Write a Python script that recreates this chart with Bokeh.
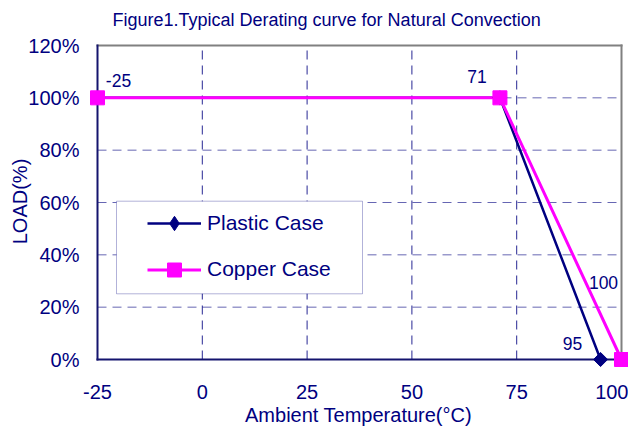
import math
from bokeh.plotting import figure
from bokeh.models import Range1d, FixedTicker, Legend, LegendItem, BoxAnnotation
from bokeh.core.properties import value
from bokeh.embed import file_html
from bokeh.resources import INLINE

# ---------------- data ----------------
chart_title = "Figure1.Typical Derating curve for Natural Convection"
x_label = "Ambient Temperature(\u00b0C)"
y_label = "LOAD(%)"
x_ticks = [-25, 0, 25, 50, 75, 100]
x_tick_labels = ["-25", "0", "25", "50", "75", "100"]
y_ticks = [0, 20, 40, 60, 80, 100, 120]
y_tick_labels = ["0%", "20%", "40%", "60%", "80%", "100%", "120%"]

plastic_temp = [-25, 71, 95]
plastic_load = [100, 100, 0]
copper_temp = [-25, 71, 100]
copper_load = [100, 100, 0]

note_text = ["-25", "71", "100", "95"]
note_temp = [-25, 71, 100, 95]
note_load = [100, 100, 0, 0]

X_MIN, X_MAX = -25, 100
Y_MIN, Y_MAX = 0, 120

# ---------------- style / layout ----------------
FONT = "Liberation Sans"
NAVY = "#000080"
MAGENTA = "#FF00FF"
GREY = "#808080"

PX = 524 / 125.0   # px per degree
PY = 314 / 120.0   # px per percent
ML, MR, MB, MT = 9, 7, 8, 10   # extra frame margin (px) so markers are not clipped

note_dx = [21, -23, -18, -28]
note_dy = [-17, -21, -77, -16]

p = figure(
    frame_width=524 + ML + MR, frame_height=314 + MB + MT,
    min_border_left=88, min_border_right=0, min_border_top=35, min_border_bottom=60,
    x_range=Range1d(X_MIN - ML / PX, X_MAX + MR / PX),
    y_range=Range1d(Y_MIN - MB / PY, Y_MAX + MT / PY),
    output_backend="svg", toolbar_location=None, title=chart_title,
)
p.outline_line_color = None
p.background_fill_color = "white"
p.border_fill_color = "white"
p.xgrid.visible = False
p.ygrid.visible = False

# title
p.title.text_font = FONT
p.title.text_font_size = "18px"
p.title.text_font_style = "normal"
p.title.text_color = NAVY
p.title.align = "left"
p.title.offset = 24
p.title.standoff = 11

# axes
for ax in (p.xaxis[0], p.yaxis[0]):
    ax.axis_line_color = None
    ax.major_tick_line_color = None
    ax.minor_tick_line_color = None
    ax.major_tick_in = 0
    ax.major_tick_out = 0
    ax.minor_tick_in = 0
    ax.minor_tick_out = 0
    ax.major_label_text_font = FONT
    ax.major_label_text_font_size = "20px"
    ax.major_label_text_color = NAVY
    ax.axis_label_text_font = FONT
    ax.axis_label_text_font_size = "20px"
    ax.axis_label_text_font_style = "normal"
    ax.axis_label_text_color = NAVY

p.xaxis.ticker = FixedTicker(ticks=x_ticks)
p.xaxis.major_label_overrides = {t: s for t, s in zip(x_ticks, x_tick_labels)}
p.xaxis.axis_label = x_label
p.xaxis.major_label_standoff = 17
p.xaxis.axis_label_standoff = 2

p.yaxis.ticker = FixedTicker(ticks=y_ticks)
p.yaxis.major_label_overrides = {t: s for t, s in zip(y_ticks, y_tick_labels)}
p.yaxis.axis_label = y_label
p.yaxis.major_label_standoff = 9
p.yaxis.axis_label_standoff = -6

# grid lines (inside the data limits only)
gx = [t for t in x_ticks if X_MIN < t < X_MAX]
gy = [t for t in y_ticks if Y_MIN < t < Y_MAX]
p.segment(x0=gx, y0=[Y_MIN] * len(gx), x1=gx, y1=[Y_MAX] * len(gx),
          line_color=NAVY, line_alpha=0.85, line_width=1, line_dash="9 6")
p.segment(x0=[X_MIN] * len(gy), y0=gy, x1=[X_MAX] * len(gy), y1=gy,
          line_color=NAVY, line_alpha=0.6, line_width=1, line_dash="9 6")

# frame
p.segment(x0=[X_MIN, X_MAX], y0=[Y_MAX, Y_MIN], x1=[X_MAX, X_MAX], y1=[Y_MAX, Y_MAX],
          line_color=GREY, line_width=2, line_cap="square")
p.segment(x0=[X_MIN, X_MIN], y0=[Y_MIN, Y_MIN], x1=[X_MIN, X_MAX], y1=[Y_MAX, Y_MIN],
          line_color="#14146e", line_width=2, line_cap="square")

# series
pl = p.line(plastic_temp, plastic_load, line_color=NAVY, line_width=2.5)
cl = p.line(copper_temp, copper_load, line_color=MAGENTA, line_width=3)
# diamond used as the legend sample (hidden under the data markers in the plot)
ps_key = p.scatter(plastic_temp, plastic_load, marker="diamond", size=9,
                   fill_color=NAVY, line_color=NAVY)
ps = p.scatter(plastic_temp, plastic_load, marker="square", angle=math.pi / 4,
               size=10, fill_color=NAVY, line_color=NAVY)
cs = p.scatter(copper_temp, copper_load, marker="square", size=14,
               fill_color=MAGENTA, line_color=MAGENTA)

# point notes
p.text(x=note_temp, y=note_load, text=note_text, x_offset=note_dx, y_offset=note_dy,
       text_font=value(FONT), text_font_size="17.5px", text_color=NAVY,
       text_align="center", text_baseline="middle")

# legend box
box = BoxAnnotation(left=X_MIN + 19 / PX, right=X_MIN + 265 / PX,
                    bottom=Y_MIN + 65.7 / PY, top=Y_MIN + 158.3 / PY,
                    fill_color="white", fill_alpha=1.0,
                    line_color=NAVY, line_width=1)
p.add_layout(box)

common = dict(padding=0, margin=0, glyph_width=54, label_standoff=6,
              border_line_color=None, background_fill_alpha=0,
              label_text_font=FONT, label_text_font_size="21px", label_text_color=NAVY)
leg1 = Legend(items=[LegendItem(label="Plastic Case", renderers=[pl, ps_key])],
              location=(59, 126), glyph_height=36, label_height=36, **common)
leg2 = Legend(items=[LegendItem(label="Copper Case", renderers=[cl, cs])],
              location=(59, 80.5), glyph_height=35, label_height=35, **common)
p.add_layout(leg1)
p.add_layout(leg2)

open("out.html", "w").write(file_html(p, INLINE))
